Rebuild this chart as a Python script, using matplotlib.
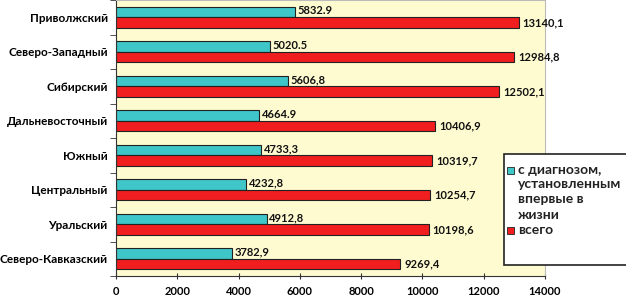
import numpy as np
import matplotlib.pyplot as plt
from matplotlib.patches import Rectangle

regions = ['Приволжский', 'Северо-Западный', 'Сибирский', 'Дальневосточный',
           'Южный', 'Центральный', 'Уральский', 'Северо-Кавказский']
first_time = [5832.9, 5020.5, 5606.8, 4664.9, 4733.3, 4232.8, 4912.8, 3782.9]
total = [13140.1, 12984.8, 12502.1, 10406.9, 10319.7, 10254.7, 10198.6, 9269.4]
first_labels = ['5832.9', '5020.5', '5606,8', '4664.9', '4733,3', '4232,8', '4912,8', '3782,9']
total_labels = ['13140,1', '12984,8', '12502,1', '10406,9', '10319,7', '10254,7', '10198,6', '9269,4']
legend_lines = ['с диагнозом,', 'установленным', 'впервые в', 'жизни']
legend_total = 'всего'

plt.rcParams['font.family'] = ['Lato', 'DejaVu Sans']
cyan = '#3EC6C8'
red = '#F01E1E'

fig = plt.figure(figsize=(6.26, 2.98), dpi=100)
ax = fig.add_axes([116/626, 22/298, (545-116)/626, 276/298])
ax.set_facecolor('#FFFBD0')

y = np.arange(len(regions))[::-1]
h = 0.3
ax.barh(y + h/2, first_time, height=h, color=cyan, edgecolor='#222222', linewidth=0.8)
ax.barh(y - h/2, total, height=h, color=red, edgecolor='#222222', linewidth=0.8)

for i in range(len(regions)):
    ax.annotate(first_labels[i], (first_time[i], y[i] + h/2), xytext=(2, 1),
                textcoords='offset points', va='center', ha='left',
                fontsize=8, fontweight='bold', color='#111111')
    ax.annotate(total_labels[i], (total[i], y[i] - h/2), xytext=(3, 0),
                textcoords='offset points', va='center', ha='left',
                fontsize=8, fontweight='bold', color='#111111')

ax.set_xlim(0, 14000)
ax.set_ylim(-0.5, len(regions) - 0.5)
ax.set_xticks(np.arange(0, 14001, 2000))
ax.set_xticklabels([str(v) for v in range(0, 14001, 2000)], fontsize=8, fontweight='bold')
ax.set_yticks(y)
ax.set_yticklabels(regions, fontsize=8.5, fontweight='bold')
ax.tick_params(axis='y', length=0, pad=6)
ax.set_yticks(np.arange(-0.5, len(regions), 1), minor=True)
ax.tick_params(axis='y', which='minor', length=4, color='#333333', direction='out')
ax.tick_params(axis='x', length=4, color='#333333', direction='inout', pad=5)

for s in ['top', 'right']:
    ax.spines[s].set_color('#BBBBBB')
for s in ['left', 'bottom']:
    ax.spines[s].set_color('#333333')

# legend drawn by hand, text wraps like the original
W, H = 626.0, 298.0
fig.patches.append(Rectangle((504/W, 1 - 265/H), 130/W, 111/H, transform=fig.transFigure,
                             facecolor='white', edgecolor='#222222', linewidth=1.2, zorder=5))
fig.patches.append(Rectangle((507/W, 1 - 174/H), 7/W, 7/H, transform=fig.transFigure,
                             facecolor=cyan, edgecolor='#222222', linewidth=0.6, zorder=6))
fig.patches.append(Rectangle((507/W, 1 - 234/H), 7/W, 7/H, transform=fig.transFigure,
                             facecolor=red, edgecolor='#222222', linewidth=0.6, zorder=6))
line_y = [170, 184, 199, 215]
for txt, ly in zip(legend_lines, line_y):
    fig.text(518/W, 1 - ly/H, txt, fontsize=10, fontweight='bold', color='#222222',
             va='center', ha='left', zorder=7)
fig.text(518/W, 1 - 230/H, legend_total, fontsize=10, fontweight='bold', color='#222222',
         va='center', ha='left', zorder=7)

fig.savefig('out.png', dpi=100)
